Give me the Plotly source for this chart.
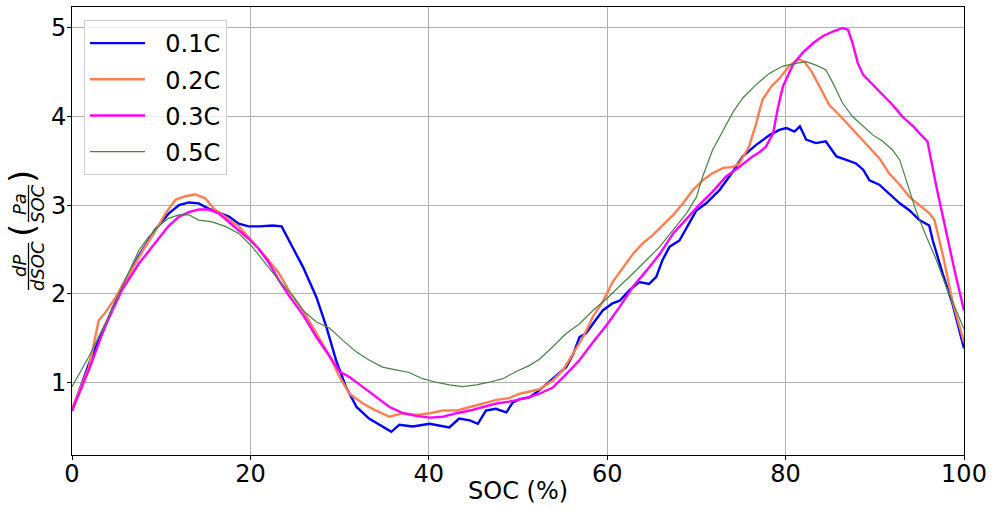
import plotly.graph_objects as go

# ---- data ----
soc_01 = [0, 2.2, 3.7, 5.6, 7.5, 9.3, 10.8, 12.0, 13.1, 14.2, 15.3, 16.4, 17.6, 18.7, 19.8, 21.0, 22.5, 23.5, 23.9, 24.7,
          25.9, 27.4, 28.5, 29.6, 30.7, 31.9, 33.3, 34.8, 35.8, 36.7, 38.2, 40.1, 41.6, 42.3, 43.4, 44.6, 45.5, 46.4, 47.5,
          48.7, 49.4, 50.2, 51.3, 52.4, 53.9, 55.4, 56.2, 56.9, 57.6, 58.4, 59.5, 60.6, 61.4, 62.5, 63.6, 64.7, 65.5, 66.2,
          67.0, 68.1, 68.9, 70.0, 71.1, 72.6, 74.1, 75.2, 76.7, 78.2, 79.3, 80.1, 81.0, 81.6, 82.3, 83.4, 84.5, 85.7, 86.8,
          87.9, 88.7, 89.4, 90.5, 91.6, 92.8, 93.9, 95.0, 96.1, 96.5, 97.6, 98.7, 100]
val_01 = [0.68, 1.29, 1.63, 2.08, 2.43, 2.72, 2.90, 3.00, 3.03, 3.02, 2.96, 2.92, 2.87, 2.79, 2.76, 2.76, 2.77, 2.76, 2.68, 2.53,
          2.30, 1.96, 1.63, 1.25, 0.95, 0.72, 0.59, 0.50, 0.44, 0.52, 0.50, 0.53, 0.50, 0.49, 0.59, 0.57, 0.53, 0.68, 0.70,
          0.66, 0.77, 0.81, 0.83, 0.91, 1.04, 1.17, 1.32, 1.51, 1.55, 1.66, 1.81, 1.89, 1.92, 2.04, 2.13, 2.11, 2.19, 2.38,
          2.53, 2.60, 2.75, 2.94, 3.02, 3.17, 3.38, 3.55, 3.68, 3.79, 3.85, 3.87, 3.83, 3.89, 3.74, 3.70, 3.72, 3.55, 3.51,
          3.47, 3.40, 3.28, 3.23, 3.13, 3.02, 2.94, 2.83, 2.77, 2.60, 2.23, 1.89, 1.38]

soc_02 = [0, 1.9, 3.0, 3.7, 4.9, 6.0, 7.1, 8.2, 9.3, 10.5, 11.6, 12.7, 13.8, 14.9, 15.9, 17.2, 18.7, 20.2, 21.7, 23.2, 24.4,
          25.9, 27.4, 28.9, 30.0, 31.1, 32.6, 34.1, 35.6, 37.1, 38.6, 40.1, 41.6, 43.1, 44.6, 46.1, 47.6, 49.0, 50.2, 52.4,
          53.9, 55.0, 56.2, 57.3, 58.4, 59.5, 60.6, 61.8, 62.9, 64.0, 65.1, 66.2, 67.4, 68.5, 69.6, 70.7, 71.8, 73.0, 74.1,
          74.8, 75.9, 76.7, 77.4, 78.4, 79.3, 80.4, 81.4, 82.1, 82.9, 83.8, 84.9, 86.0, 87.2, 88.3, 89.4, 90.5, 91.6, 92.8,
          93.9, 95.0, 96.1, 96.7, 97.6, 98.7, 100]
val_02 = [0.70, 1.17, 1.70, 1.78, 1.96, 2.15, 2.34, 2.53, 2.70, 2.91, 3.06, 3.10, 3.12, 3.08, 2.96, 2.87, 2.76, 2.59, 2.42, 2.23,
          2.02, 1.81, 1.55, 1.29, 1.06, 0.87, 0.76, 0.68, 0.61, 0.65, 0.63, 0.65, 0.68, 0.68, 0.72, 0.76, 0.80, 0.82, 0.87,
          0.92, 1.02, 1.13, 1.32, 1.51, 1.74, 1.91, 2.13, 2.30, 2.45, 2.57, 2.66, 2.77, 2.89, 3.02, 3.17, 3.28, 3.36, 3.42,
          3.43, 3.47, 3.66, 3.92, 4.19, 4.34, 4.43, 4.57, 4.65, 4.62, 4.51, 4.34, 4.13, 4.02, 3.89, 3.77, 3.66, 3.53, 3.36,
          3.23, 3.09, 3.00, 2.91, 2.83, 2.45, 1.92, 1.45]

soc_03 = [0, 1.9, 3.7, 5.6, 7.5, 9.3, 10.8, 12.0, 13.1, 14.2, 15.3, 16.4, 17.6, 18.7, 19.8, 20.9, 22.0, 23.2, 24.3, 25.9,
          27.4, 28.9, 30.0, 31.1, 32.6, 34.1, 35.6, 37.1, 38.6, 40.1, 41.6, 43.1, 44.6, 46.1, 47.6, 49.0, 50.9, 52.4, 53.9,
          55.4, 56.9, 58.4, 59.9, 61.4, 62.9, 64.4, 65.9, 67.4, 68.9, 70.3, 71.8, 73.3, 74.8, 76.3, 77.1, 77.8, 78.6, 79.1,
          79.7, 80.8, 81.9, 83.1, 84.2, 85.3, 86.4, 87.0, 87.5, 88.1, 88.7, 89.8, 90.9, 92.0, 93.1, 94.3, 95.2, 95.9, 96.9,
          98.0, 99.1, 100]
val_03 = [0.68, 1.14, 1.63, 2.04, 2.34, 2.57, 2.76, 2.87, 2.92, 2.95, 2.95, 2.91, 2.81, 2.72, 2.62, 2.51, 2.36, 2.15, 1.98, 1.76,
          1.51, 1.29, 1.12, 1.06, 0.95, 0.83, 0.72, 0.65, 0.62, 0.60, 0.61, 0.65, 0.68, 0.72, 0.76, 0.78, 0.82, 0.87, 0.94,
          1.09, 1.25, 1.45, 1.64, 1.85, 2.08, 2.26, 2.45, 2.68, 2.85, 3.00, 3.15, 3.32, 3.43, 3.55, 3.60, 3.66, 3.81, 4.08,
          4.34, 4.58, 4.72, 4.83, 4.91, 4.96, 5.00, 4.98, 4.83, 4.60, 4.47, 4.36, 4.25, 4.13, 4.00, 3.89, 3.79, 3.72, 3.21,
          2.68, 2.19, 1.81]

soc_05 = [0, 1.9, 3.7, 5.6, 7.5, 8.6, 9.7, 10.8, 12.0, 13.1, 14.2, 15.7, 17.2, 18.7, 20.2, 21.7, 23.2, 24.7, 25.9, 27.4,
          28.9, 30.4, 31.9, 33.3, 34.8, 36.3, 37.8, 39.3, 40.8, 42.3, 43.8, 45.3, 46.8, 48.3, 49.8, 51.3, 52.4, 53.9, 55.4,
          56.9, 58.4, 59.9, 61.4, 62.9, 64.4, 65.9, 67.4, 68.9, 70.0, 70.7, 71.8, 73.0, 74.1, 75.2, 76.7, 78.2, 79.7, 81.2,
          82.3, 83.4, 84.5, 85.3, 86.4, 87.5, 88.7, 89.8, 90.9, 92.0, 92.8, 93.5, 94.6, 95.8, 96.9, 98.0, 99.1, 100]
val_05 = [0.95, 1.29, 1.66, 2.08, 2.49, 2.64, 2.76, 2.85, 2.89, 2.89, 2.83, 2.81, 2.76, 2.68, 2.53, 2.34, 2.15, 1.98, 1.81, 1.68,
          1.61, 1.47, 1.34, 1.25, 1.17, 1.14, 1.11, 1.04, 1.00, 0.97, 0.95, 0.97, 1.00, 1.04, 1.12, 1.19, 1.26, 1.40, 1.55,
          1.66, 1.81, 1.94, 2.08, 2.23, 2.38, 2.53, 2.72, 2.91, 3.09, 3.32, 3.62, 3.85, 4.05, 4.21, 4.36, 4.49, 4.57, 4.60,
          4.62, 4.58, 4.53, 4.38, 4.15, 4.00, 3.89, 3.79, 3.72, 3.62, 3.51, 3.28, 2.94, 2.64, 2.38, 2.08, 1.81, 1.60]

labels = ["0.1C", "0.2C", "0.3C", "0.5C"]
colors = ["#0000ff", "#ff7f50", "#ff00ff", "#468246"]
widths = [2.4, 2.4, 2.4, 1.2]
xticks = [0, 20, 40, 60, 80, 100]
yticks = [1, 2, 3, 4, 5]

FONT = "DejaVu Sans"
FS = 24
fig = go.Figure()
for xs, ys, lab, col, w in zip([soc_01, soc_02, soc_03, soc_05],
                               [val_01, val_02, val_03, val_05], labels, colors, widths):
    fig.add_trace(go.Scatter(x=xs, y=ys, mode="lines", name="\u00a0\u00a0" + lab, legendgroup=lab,
                             line=dict(color=col, width=w)))

L, R, T, B = 72, 28, 7, 59
W, H = 992, 514
pw, ph = W - L - R, H - T - B


def px2paper(px, py):
    return (px - L) / pw, (H - B - py) / ph


annotations = []


def add_txt(text, px, py, size, angle=-90):
    x, y = px2paper(px, py)
    annotations.append(dict(text=text, x=x, y=y, xref="paper", yref="paper", showarrow=False,
                            textangle=angle, xanchor="center", yanchor="middle",
                            font=dict(family=FONT, size=size, color="black")))


add_txt(")", 22, 177, 34)
add_txt("<i>Pa</i>", 19, 204, 18)
add_txt("<i>SOC</i>", 37, 204, 18)
add_txt("(", 22, 231, 34)
add_txt("<i>dP</i>", 19, 266, 18)
add_txt("<i>dSOC</i>", 37, 266, 18)
add_txt("SOC (%)", (L + W - R) / 2, 491, FS, angle=0)

shapes = []
for (y0, y1) in [(185, 222), (243, 290)]:
    xa, ya = px2paper(28.5, y0)
    xb, yb = px2paper(28.5, y1)
    shapes.append(dict(type="line", xref="paper", yref="paper", x0=xa, y0=ya, x1=xb, y1=yb,
                       line=dict(color="black", width=1.3)))

axis_common = dict(showgrid=True, gridcolor="#b0b0b0", gridwidth=0.8, zeroline=False,
                   showline=True, linecolor="black", linewidth=1, mirror=True,
                   ticks="outside", ticklen=4, tickcolor="black", automargin=False,
                   tickfont=dict(family=FONT, size=FS, color="black"))

fig.update_layout(
    width=W, height=H,
    margin=dict(l=L, r=R, t=T, b=B, autoexpand=False),
    paper_bgcolor="white", plot_bgcolor="white",
    font=dict(family=FONT, size=FS, color="black"),
    xaxis=dict(range=[0, 100], tickvals=xticks, ticklabelstandoff=-7, **axis_common),
    yaxis=dict(range=[0.178, 5.237], tickvals=yticks, ticklabelstandoff=-4, **axis_common),
    legend=dict(x=px2paper(84, 0)[0], y=px2paper(0, 20)[1], xanchor="left", yanchor="top",
                bgcolor="rgba(255,255,255,0.8)", bordercolor="#cccccc", borderwidth=1,
                font=dict(family=FONT, size=FS, color="black"), tracegroupgap=2,
                itemwidth=55),
    annotations=annotations,
    shapes=shapes,
    showlegend=True,
)

fig.write_html("out.html")
